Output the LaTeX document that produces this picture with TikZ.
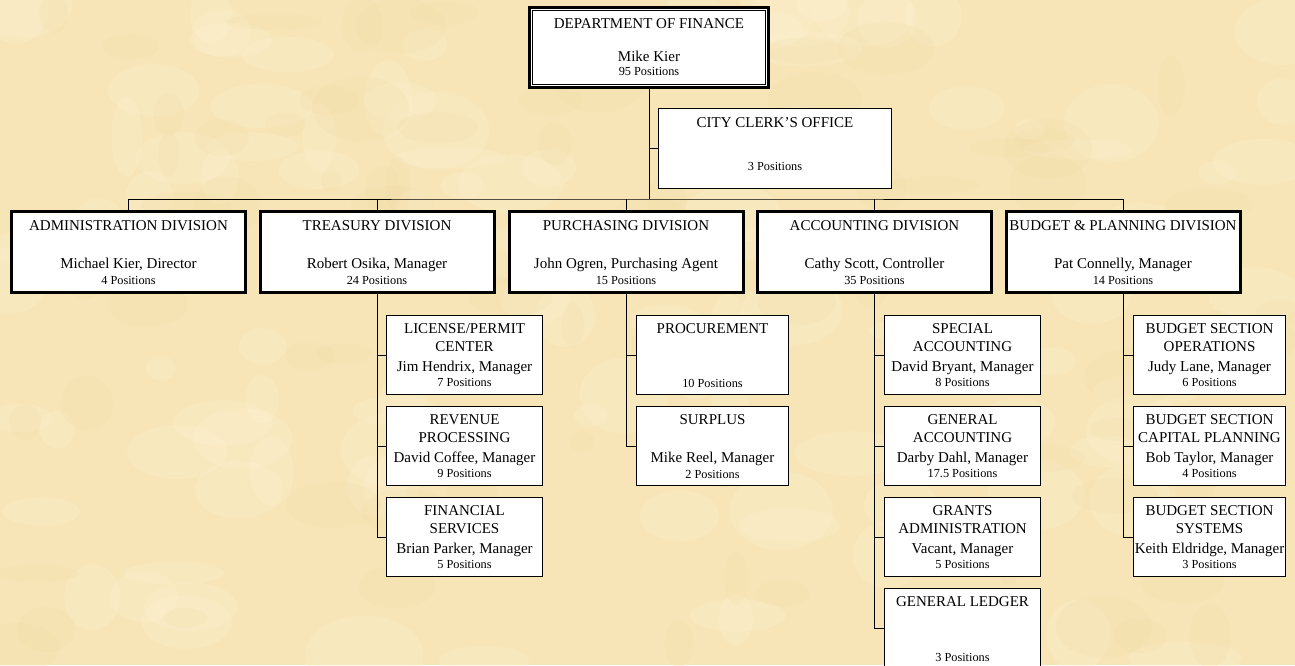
\documentclass[tikz,border=0pt]{standalone}
\usepackage{fontspec}
\setmainfont{Liberation Serif}
\usetikzlibrary{calc}
\definecolor{parch}{RGB}{247,229,183}
\definecolor{parchlight}{RGB}{252,242,212}
\definecolor{parchdark}{RGB}{241,219,166}
\newcommand{\mainsz}{\fontsize{15pt}{18.4pt}\selectfont}
\newcommand{\possz}[1]{\par\fontsize{12.3pt}{#1}\selectfont}
\newcommand{\bxt}[4]{\parbox[c][#2][t]{#1}{\centering\mainsz\rule{0pt}{#3}#4\par}}
\tikzset{
  chart/.style={draw=black, fill=white, inner sep=0pt, outer sep=0pt, anchor=north west},
  subbox/.style={chart, line width=1.1pt},
  divbox/.style={chart, line width=3pt},
  topbox/.style={chart, line width=2.8pt},
  conn/.style={line width=1pt, draw=black}
}
\begin{document}
\begin{tikzpicture}[x=1pt,y=-1pt]
\useasboundingbox (0,0) rectangle (1295,665);
\fill[parch] (0,0) rectangle (1295,665);
\pgfmathsetseed{11}
\foreach \i in {1,...,110} {
  \fill[parchlight, opacity=0.25] ({rnd*1295},{rnd*665}) ellipse ({15+rnd*45} and {10+rnd*30});
}
\foreach \i in {1,...,80} {
  \fill[parchdark, opacity=0.2] ({rnd*1295},{rnd*665}) ellipse ({10+rnd*40} and {8+rnd*25});
}

% top
\node[topbox] (fin) at (529.5,7.5) {\bxt{239pt}{80pt}{20.5pt}{DEPARTMENT OF FINANCE\\[15pt]Mike Kier\possz{14.3pt}95 Positions}};
\draw[line width=0.9pt] ([shift={(3.3pt,-3.3pt)}]fin.north west) rectangle ([shift={(-3.3pt,3.3pt)}]fin.south east);

\node[subbox] (clerk) at (658.5,108.5) {\bxt{233pt}{80pt}{19.2pt}{CITY CLERK'S OFFICE\possz{42.3pt}3 Positions}};

% divisions
\node[divbox] (adm) at (11.5,211.5) {\bxt{234pt}{81pt}{18.5pt}{ADMINISTRATION DIVISION\\[19.6pt]Michael Kier, Director\possz{16.5pt}4 Positions}};
\node[divbox] (tre) at (260,211.5) {\bxt{234pt}{81pt}{18.5pt}{TREASURY DIVISION\\[19.6pt]Robert Osika, Manager\possz{16.5pt}24 Positions}};
\node[divbox] (pur) at (509,211.5) {\bxt{234pt}{81pt}{18.5pt}{PURCHASING DIVISION\\[19.6pt]John Ogren, Purchasing Agent\possz{16.5pt}15 Positions}};
\node[divbox] (acc) at (757.5,211.5) {\bxt{234pt}{81pt}{18.5pt}{ACCOUNTING DIVISION\\[19.6pt]Cathy Scott, Controller\possz{16.5pt}35 Positions}};
\node[divbox] (bud) at (1006,211.5) {\bxt{234pt}{81pt}{18.5pt}{BUDGET \& PLANNING DIVISION\\[19.6pt]Pat Connelly, Manager\possz{16.5pt}14 Positions}};

% treasury subs
\node[subbox] (tre1) at (386.5,315.5) {\bxt{156pt}{79pt}{17.8pt}{LICENSE/PERMIT\\CENTER\\[1.6pt]Jim Hendrix, Manager\possz{15pt}7 Positions}};
\node[subbox] (tre2) at (386.5,406.5) {\bxt{156pt}{79pt}{17.8pt}{REVENUE\\PROCESSING\\[1.6pt]David Coffee, Manager\possz{15pt}9 Positions}};
\node[subbox] (tre3) at (386.5,497.5) {\bxt{156pt}{79pt}{17.8pt}{FINANCIAL\\SERVICES\\[1.6pt]Brian Parker, Manager\possz{15pt}5 Positions}};

% purchasing subs
\node[subbox] (pur1) at (636.5,315.5) {\bxt{152pt}{79pt}{17.8pt}{PROCUREMENT\possz{54pt}10 Positions}};
\node[subbox] (pur2) at (636.5,406.5) {\bxt{152pt}{79pt}{17.8pt}{SURPLUS\\[19.3pt]Mike Reel, Manager\possz{16.6pt}2 Positions}};

% accounting subs
\node[subbox] (acc1) at (884.5,315.5) {\bxt{156pt}{79pt}{17.8pt}{SPECIAL\\ACCOUNTING\\[1.6pt]David Bryant, Manager\possz{15pt}8 Positions}};
\node[subbox] (acc2) at (884.5,406.5) {\bxt{156pt}{79pt}{17.8pt}{GENERAL\\ACCOUNTING\\[1.6pt]Darby Dahl, Manager\possz{15pt}17.5 Positions}};
\node[subbox] (acc3) at (884.5,497.5) {\bxt{156pt}{79pt}{17.8pt}{GRANTS\\ADMINISTRATION\\[1.6pt]Vacant, Manager\possz{15pt}5 Positions}};
\node[subbox] (acc4) at (884.5,588.5) {\bxt{156pt}{79pt}{17.8pt}{GENERAL LEDGER\possz{54.7pt}3 Positions}};

% budget subs
\node[subbox] (bud1) at (1133.5,315.5) {\bxt{152pt}{79pt}{17.8pt}{BUDGET SECTION\\OPERATIONS\\[1.6pt]Judy Lane, Manager\possz{15pt}6 Positions}};
\node[subbox] (bud2) at (1133.5,406.5) {\bxt{152pt}{79pt}{17.8pt}{BUDGET SECTION\\CAPITAL PLANNING\\[1.6pt]Bob Taylor, Manager\possz{15pt}4 Positions}};
\node[subbox] (bud3) at (1133.5,497.5) {\bxt{152pt}{79pt}{17.8pt}{BUDGET SECTION\\SYSTEMS\\[1.6pt]\makebox[\linewidth]{Keith Eldridge, Manager}\possz{15pt}3 Positions}};

% connectors
\coordinate (bus) at (649,199);
\draw[conn] (fin.south) -- (bus);
\draw[conn] (clerk.west) -- (clerk.west -| fin.south);
\draw[conn] (adm.north) |- (bus) -| (bud.north);
\draw[conn] (tre.north) -- (tre.north |- bus);
\draw[conn] (pur.north) -- (pur.north |- bus);
\draw[conn] (acc.north) -- (acc.north |- bus);

\draw[conn] (tre.south) |- (tre1.west);
\draw[conn] (tre.south) |- (tre2.west);
\draw[conn] (tre.south) |- (tre3.west);
\draw[conn] (pur.south) |- (pur1.west);
\draw[conn] (pur.south) |- (pur2.west);
\draw[conn] (acc.south) |- (acc1.west);
\draw[conn] (acc.south) |- (acc2.west);
\draw[conn] (acc.south) |- (acc3.west);
\draw[conn] (acc.south) |- (acc4.west);
\draw[conn] (bud.south) |- (bud1.west);
\draw[conn] (bud.south) |- (bud2.west);
\draw[conn] (bud.south) |- (bud3.west);
\end{tikzpicture}
\end{document}
